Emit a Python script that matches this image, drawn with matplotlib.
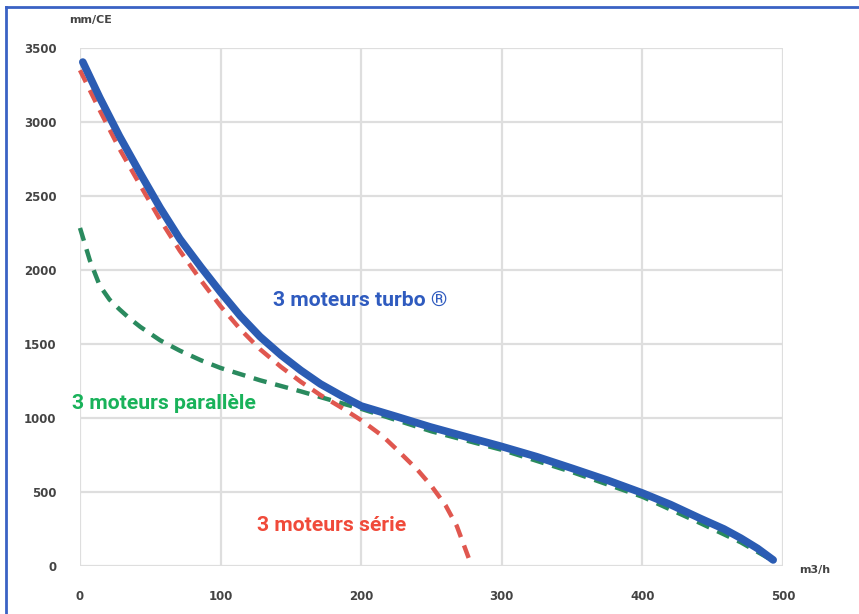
import numpy as np
import matplotlib.pyplot as plt
from matplotlib.lines import Line2D

# debit (m3/h) / depression (mm CE)
turbo_x = [2, 14, 28, 43, 57, 71, 86, 100, 114, 128, 143, 157, 171, 186, 200,
           225, 249, 275, 299, 325, 350, 375, 400, 420, 441, 458, 470, 482, 493]
turbo_y = [3405, 3165, 2905, 2650, 2420, 2210, 2020, 1850, 1690, 1550, 1425, 1322, 1230, 1150, 1081,
           1010, 940, 872, 810, 738, 660, 580, 493, 415, 322, 250, 188, 118, 41]

para_x = [0, 7, 14, 21, 28, 35, 43, 57, 71, 86, 100, 128, 157, 186, 200,
          250, 300, 350, 400, 440, 470, 493]
para_y = [2284, 2065, 1895, 1800, 1735, 1675, 1615, 1525, 1455, 1390, 1338, 1255, 1180, 1100, 1062,
          910, 785, 635, 468, 295, 160, 35]

serie_x = [0, 14, 28, 43, 57, 71, 86, 100, 114, 128, 143, 157, 171, 186, 200,
           215, 225, 240, 250, 260, 268, 277]
serie_y = [3350, 3080, 2820, 2570, 2340, 2130, 1930, 1755, 1600, 1465, 1345, 1245, 1155, 1070, 985,
           880, 790, 650, 540, 410, 270, 40]

xticks = [0, 100, 200, 300, 400, 500]
yticks = [0, 500, 1000, 1500, 2000, 2500, 3000, 3500]

W, H = 859, 614
fig = plt.figure(figsize=(W / 100, H / 100), dpi=100)
ax = fig.add_axes([80 / W, 1 - 566 / H, (783 - 80) / W, (566 - 48) / H])

ax.set_xlim(0, 500)
ax.set_ylim(0, 3500)
ax.set_xticks(xticks)
ax.set_yticks(yticks)
ax.grid(True, color='#dedede', lw=1.6)
ax.set_axisbelow(True)
for s in ax.spines.values():
    s.set_visible(False)
ax.tick_params(length=0, labelsize=8.5, labelcolor='#444444', pad=17)
for lab in ax.get_xticklabels() + ax.get_yticklabels():
    lab.set_fontweight('bold')

ax.plot(para_x, para_y, color='#2a8a5e', lw=3.2, ls=(0, (3, 2)), clip_on=False, zorder=3)
ax.plot(serie_x, serie_y, color='#e0574f', lw=3.2, ls=(0, (3, 2)), clip_on=False, zorder=4)
ax.plot(turbo_x, turbo_y, color='#2b5cb3', lw=5.5, solid_capstyle='round',
        solid_joinstyle='round', clip_on=False, zorder=5)

txt = dict(family='Roboto', fontweight='bold', fontsize=15.2, va='center', ha='left')
ax.text(137, 1797, '3 moteurs turbo ®', color='#2f5bbf', **txt)
ax.text(-5.7, 1101, '3 moteurs parallèle', color='#19b25a', **txt)
ax.text(126, 277, '3 moteurs série', color='#f04a3a', **txt)

fig.text(91 / W, 1 - 20 / H, 'mm/CE', fontsize=8, fontweight='bold', color='#444444', ha='center', va='center')
fig.text(815 / W, 1 - 570 / H, 'm3/h', fontsize=8, fontweight='bold', color='#444444', ha='center', va='center')

# cadre bleu
fig.add_artist(Line2D([6 / W, 6 / W], [0, 1 - 7 / H], color='#3a62c4', lw=2))
fig.add_artist(Line2D([6 / W, 1], [1 - 7 / H, 1 - 7 / H], color='#3a62c4', lw=2))

fig.savefig('out.png', dpi=100)
